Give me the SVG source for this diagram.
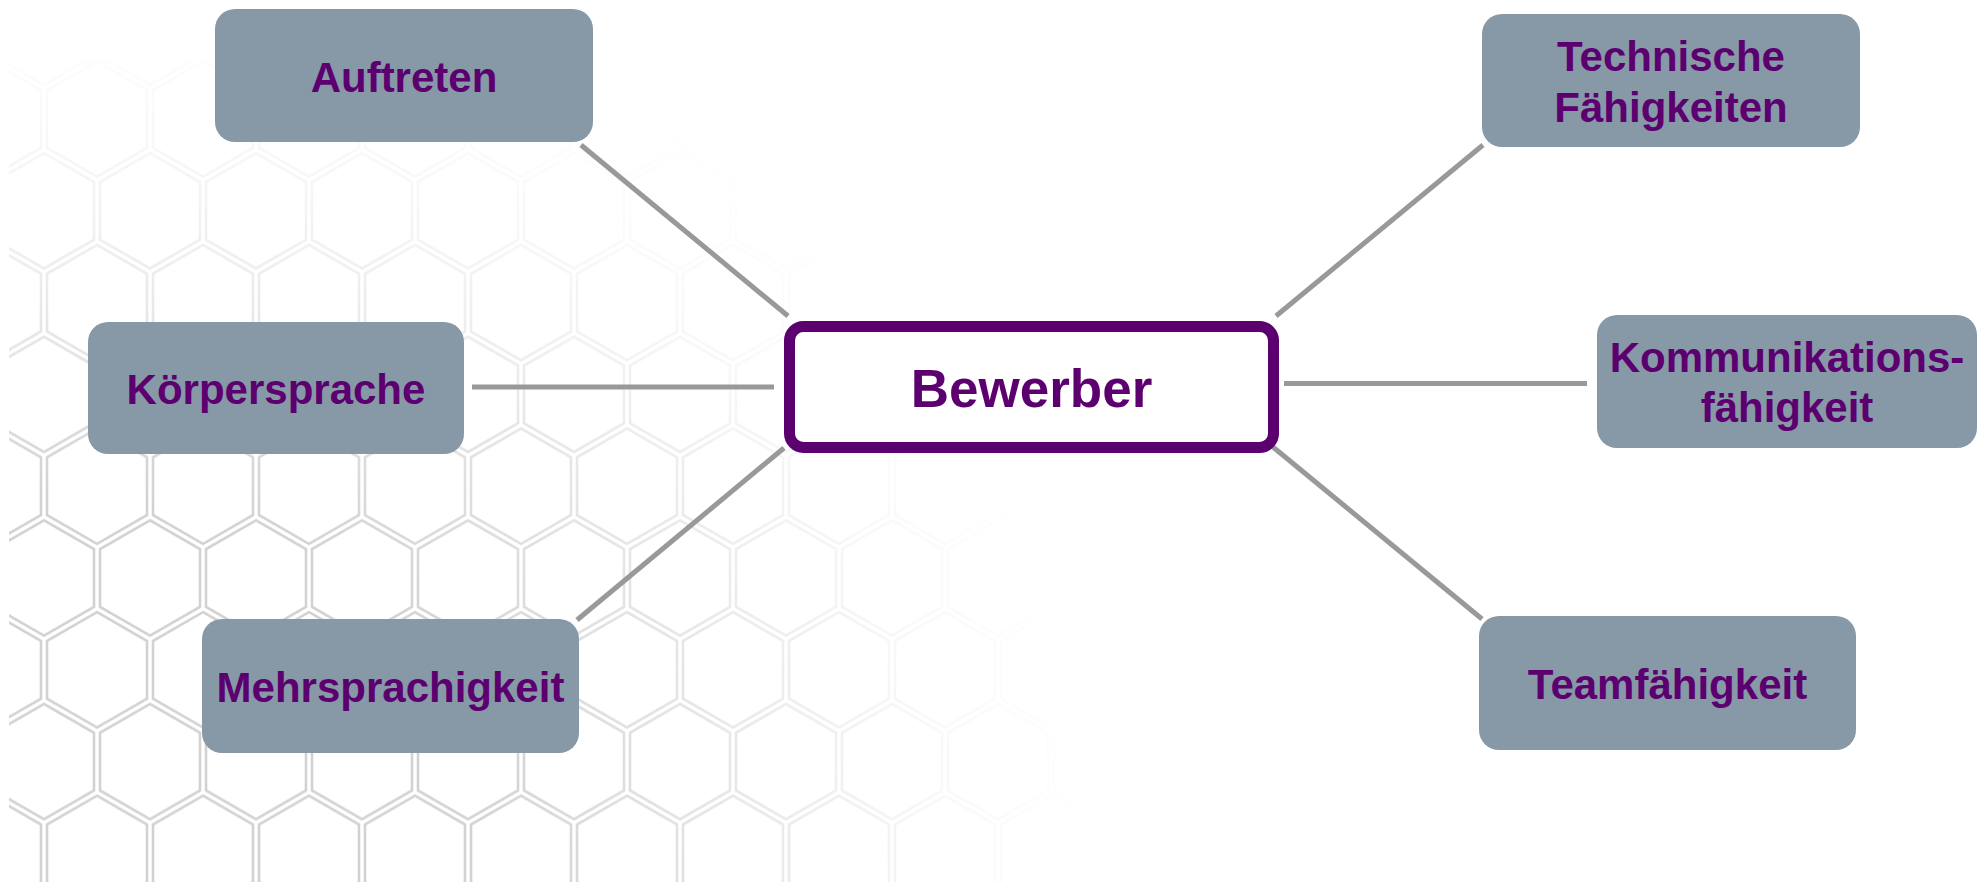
<svg xmlns="http://www.w3.org/2000/svg" width="1980" height="882" viewBox="0 0 1980 882">
  <style>
    .node rect { fill: #8798A7; }
    .label { font-family: "Liberation Sans", Arial, sans-serif; font-weight: bold; font-size: 42px; fill: #5C0070; text-anchor: middle; }
    .center-label { font-size: 53px; }
    .conn line { stroke: #999999; stroke-width: 5; }
    .hex { fill: none; stroke: #d2d2d2; stroke-width: 2.6; }
  </style>
  <defs>
    <path id="hx" d="M0,-57.7 L50,-28.85 L50,28.85 L0,57.7 L-50,28.85 L-50,-28.85 Z"/>
    <pattern id="hexPattern" patternUnits="userSpaceOnUse" x="44" y="27.2" width="106" height="183.6">
      <use href="#hx" class="hex" x="0" y="0"/>
      <use href="#hx" class="hex" x="106" y="0"/>
      <use href="#hx" class="hex" x="0" y="183.6"/>
      <use href="#hx" class="hex" x="106" y="183.6"/>
      <use href="#hx" class="hex" x="53" y="91.8"/>
    </pattern>
    <radialGradient id="fadeGrad" gradientUnits="userSpaceOnUse" cx="100" cy="900" r="1000">
      <stop offset="0" stop-color="#ffffff"/>
      <stop offset="0.4" stop-color="#ffffff"/>
      <stop offset="0.65" stop-color="#888888"/>
      <stop offset="0.85" stop-color="#222222"/>
      <stop offset="1" stop-color="#000000"/>
    </radialGradient>
    <linearGradient id="topGrad" gradientUnits="userSpaceOnUse" x1="0" y1="60" x2="0" y2="440">
      <stop offset="0" stop-color="#666666"/>
      <stop offset="1" stop-color="#ffffff"/>
    </linearGradient>
    <mask id="fadeMask" maskUnits="userSpaceOnUse" x="0" y="0" width="1980" height="882">
      <rect x="0" y="0" width="1980" height="882" fill="url(#fadeGrad)"/>
    </mask>
    <mask id="topMask" maskUnits="userSpaceOnUse" x="0" y="0" width="1980" height="882">
      <rect x="0" y="0" width="1980" height="882" fill="url(#topGrad)"/>
    </mask>
  </defs>

  <rect x="0" y="0" width="1980" height="882" fill="#ffffff"/>

  <g id="background" mask="url(#fadeMask)">
    <rect x="9" y="60" width="1100" height="822" fill="url(#hexPattern)" mask="url(#topMask)"/>
  </g>

  <g id="connectors" class="conn">
    <line x1="581" y1="145" x2="788" y2="316"/>
    <line x1="472" y1="387" x2="774" y2="387"/>
    <line x1="577" y1="620" x2="784" y2="448"/>
    <line x1="1276" y1="316" x2="1483" y2="145"/>
    <line x1="1284" y1="383.5" x2="1587" y2="383.5"/>
    <line x1="1273" y1="447" x2="1482" y2="619"/>
  </g>

  <g id="node-bewerber">
    <rect x="789.5" y="326.5" width="484" height="121" rx="14" fill="#ffffff" stroke="#5C0070" stroke-width="11"/>
    <text class="label center-label" x="1031.5" y="406.5">Bewerber</text>
  </g>

  <g id="node-auftreten" class="node">
    <rect x="215" y="9" width="378" height="133" rx="20"/>
    <text class="label" x="404" y="92">Auftreten</text>
  </g>

  <g id="node-koerpersprache" class="node">
    <rect x="88" y="322" width="376" height="132" rx="20"/>
    <text class="label" x="276" y="403.5">Körpersprache</text>
  </g>

  <g id="node-mehrsprachigkeit" class="node">
    <rect x="202" y="619" width="377" height="134" rx="20"/>
    <text class="label" x="390.5" y="702">Mehrsprachigkeit</text>
  </g>

  <g id="node-technische" class="node">
    <rect x="1482" y="14" width="378" height="133" rx="20"/>
    <text class="label" x="1671" y="71">Technische</text>
    <text class="label" x="1671" y="122">Fähigkeiten</text>
  </g>

  <g id="node-kommunikation" class="node">
    <rect x="1597" y="315" width="380" height="133" rx="20"/>
    <text class="label" x="1787" y="372">Kommunikations-</text>
    <text class="label" x="1787" y="422">fähigkeit</text>
  </g>

  <g id="node-team" class="node">
    <rect x="1479" y="616" width="377" height="134" rx="20"/>
    <text class="label" x="1667.5" y="699">Teamfähigkeit</text>
  </g>
</svg>
